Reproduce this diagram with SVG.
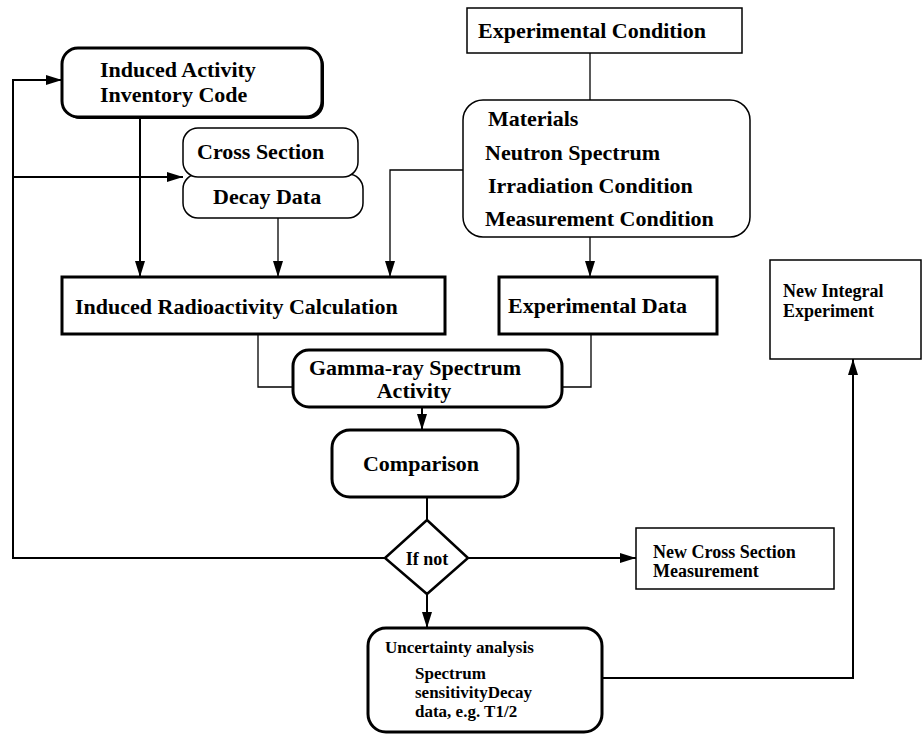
<svg xmlns="http://www.w3.org/2000/svg" width="922" height="735" viewBox="0 0 922 735">
<style>
  text { font-family: "Liberation Serif", "Times New Roman", serif; font-weight: bold; fill: #000; }
  .lg { font-size: 22px; }
  .sm { font-size: 18px; }
  .xs { font-size: 17px; }
  .thick { fill: #fff; stroke: #000; stroke-width: 3; }
  .thin { fill: #fff; stroke: #000; stroke-width: 1.5; }
  .c { fill: none; stroke: #000; stroke-width: 2; }
  .ct { fill: none; stroke: #000; stroke-width: 1.3; }
</style>
<defs>
  <marker id="ah" markerUnits="userSpaceOnUse" markerWidth="16" markerHeight="10" refX="16" refY="5" orient="auto">
    <path d="M0,0 L16,5 L0,10 z" fill="#000"/>
  </marker>
</defs>
<rect width="922" height="735" fill="#fff"/>

<g id="connectors">
  <polyline class="c" points="385,558 13,558 13,80 62,80" marker-end="url(#ah)"/>
  <line class="c" x1="13" y1="177" x2="183" y2="177" marker-end="url(#ah)"/>
  <line class="c" x1="140" y1="117" x2="140" y2="277" marker-end="url(#ah)"/>
  <line class="ct" x1="278" y1="218" x2="278" y2="277" marker-end="url(#ah)"/>
  <polyline class="ct" points="463,170 390,170 390,277" marker-end="url(#ah)"/>
  <line class="ct" x1="590" y1="53" x2="590" y2="100"/>
  <line class="ct" x1="590" y1="237" x2="590" y2="277" marker-end="url(#ah)"/>
  <polyline class="ct" points="258,334 258,387 293,387"/>
  <polyline class="ct" points="591,334 591,387 562,387"/>
  <line class="c" x1="422" y1="407" x2="422" y2="430" marker-end="url(#ah)"/>
  <line class="c" x1="427" y1="497" x2="427" y2="520"/>
  <line class="c" x1="468" y1="558" x2="636" y2="558" marker-end="url(#ah)"/>
  <line class="c" x1="427" y1="594" x2="427" y2="628" marker-end="url(#ah)"/>
  <polyline class="c" points="602,678 853,678 853,359" marker-end="url(#ah)"/>
</g>

<g id="inventory-code">
  <rect x="64" y="50" width="260" height="69" rx="16" fill="#000"/>
  <rect class="thick" x="62" y="48" width="260" height="69" rx="16"/>
  <text class="lg" x="100" y="77">Induced Activity</text>
  <text class="lg" x="100" y="102">Inventory Code</text>
</g>

<g id="cross-section-decay">
  <rect class="thin" x="183" y="174" width="180" height="44" rx="15"/>
  <rect class="thin" x="183" y="128" width="175" height="49" rx="15"/>
  <text class="lg" x="197" y="159">Cross Section</text>
  <text class="lg" x="213" y="204">Decay Data</text>
</g>

<g id="experimental-condition">
  <rect class="thin" x="467" y="8" width="275" height="45"/>
  <text class="lg" x="478" y="38">Experimental Condition</text>
</g>

<g id="conditions">
  <rect class="thin" x="463" y="100" width="287" height="137" rx="20"/>
  <text class="lg" x="488" y="126">Materials</text>
  <text class="lg" x="485" y="160">Neutron Spectrum</text>
  <text class="lg" x="488" y="193">Irradiation Condition</text>
  <text class="lg" x="485" y="226">Measurement Condition</text>
</g>

<g id="radioactivity-calculation">
  <rect class="thick" x="62" y="277" width="383" height="57"/>
  <text class="lg" x="75" y="314">Induced Radioactivity Calculation</text>
</g>

<g id="experimental-data">
  <rect class="thick" x="499" y="277" width="218" height="57"/>
  <text class="lg" x="508" y="313">Experimental Data</text>
</g>

<g id="gamma-spectrum">
  <rect class="thick" x="293" y="350" width="269" height="57" rx="16"/>
  <text class="lg" x="415" y="375" text-anchor="middle">Gamma-ray Spectrum</text>
  <text class="lg" x="414" y="398" text-anchor="middle">Activity</text>
</g>

<g id="comparison">
  <rect class="thick" x="332" y="430" width="186" height="67" rx="18"/>
  <text class="lg" x="421" y="471" text-anchor="middle">Comparison</text>
</g>

<g id="if-not">
  <polygon class="thin" style="stroke-width:2.5" points="427,520 468,558 427,594 385,558"/>
  <text class="sm" x="427" y="565" text-anchor="middle">If not</text>
</g>

<g id="new-cross-section">
  <rect class="thin" x="636" y="528" width="198" height="61"/>
  <text class="sm" x="653" y="558">New Cross Section</text>
  <text class="sm" x="653" y="577">Measurement</text>
</g>

<g id="uncertainty">
  <rect class="thick" x="368" y="628" width="234" height="104" rx="18"/>
  <text class="xs" x="385" y="653">Uncertainty analysis</text>
  <text class="xs" x="415" y="679">Spectrum</text>
  <text class="xs" x="415" y="698">sensitivityDecay</text>
  <text class="xs" x="415" y="717">data, e.g. T1/2</text>
</g>

<g id="new-integral">
  <rect class="thin" x="770" y="260" width="151" height="99"/>
  <text class="sm" x="783" y="297">New Integral</text>
  <text class="sm" x="783" y="317">Experiment</text>
</g>
</svg>
